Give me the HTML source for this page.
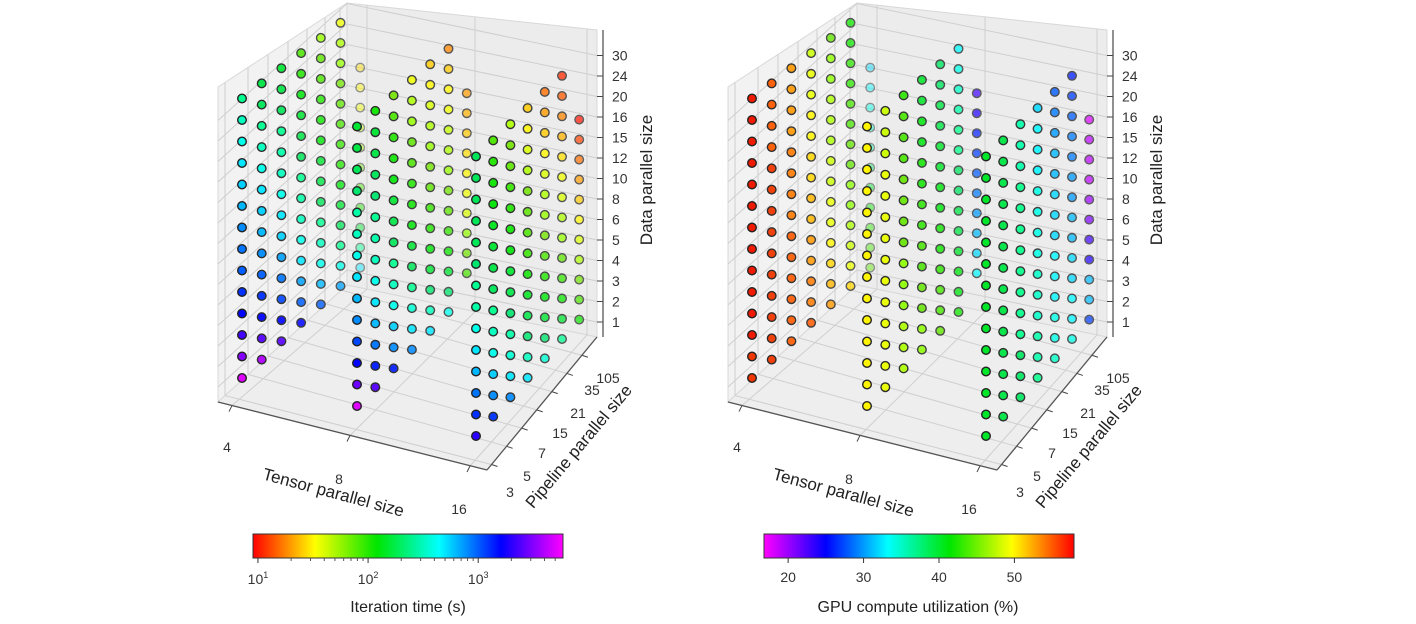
<!DOCTYPE html>
<html><head><meta charset="utf-8"><style>
html,body{margin:0;padding:0;background:#fff;}
svg{display:block;font-family:"Liberation Sans",sans-serif;}
</style></head><body>
<svg id="fig" width="1416" height="624" viewBox="0 0 1416 624" xmlns="http://www.w3.org/2000/svg">
<defs>
<linearGradient id="gTime" x1="0" x2="1" y1="0" y2="0">
<stop offset="0" stop-color="hsl(0,100%,50%)"/><stop offset="0.2" stop-color="hsl(60,100%,50%)"/><stop offset="0.4" stop-color="hsl(120,100%,45%)"/><stop offset="0.6" stop-color="hsl(180,100%,50%)"/><stop offset="0.8" stop-color="hsl(240,100%,50%)"/><stop offset="1" stop-color="hsl(300,100%,50%)"/>
</linearGradient>
<linearGradient id="gUtil" x1="0" x2="1" y1="0" y2="0">
<stop offset="0" stop-color="hsl(300,100%,50%)"/><stop offset="0.2" stop-color="hsl(240,100%,50%)"/><stop offset="0.4" stop-color="hsl(180,100%,50%)"/><stop offset="0.6" stop-color="hsl(120,100%,45%)"/><stop offset="0.8" stop-color="hsl(60,100%,50%)"/><stop offset="1" stop-color="hsl(0,100%,50%)"/>
</linearGradient>
</defs>
</svg>
<script>
// ---- data ----
const tensorSizes = [4, 8, 16];
const pipelineSizes = [3, 5, 7, 15, 21, 35, 105];
const dataSizes = [1, 2, 3, 4, 5, 6, 8, 10, 12, 15, 16, 20, 24, 30];
const startRowT4 = [0,0,0,0,0,0,0];
const startRowT8 = [0,0,0,0,0,0,1];
const startRowT16 = [0,0,0,0,0,0,0];
// log10 iteration time (s), each column bottom -> top
const logTimeT4 = [
 [3.7,3.5,3.35,3.2,3.1,3.0,2.95,2.9,2.8,2.75,2.7,2.6,2.5,2.4],
 [3.6,3.4,3.2,3.1,3.0,2.9,2.8,2.75,2.7,2.6,2.5,2.4,2.3,2.25],
 [3.4,3.2,3.05,2.95,2.85,2.75,2.7,2.6,2.5,2.45,2.4,2.3,2.25,2.2],
 [3.2,3.0,2.85,2.7,2.6,2.5,2.45,2.4,2.3,2.25,2.2,2.1,2.0,1.9],
 [3.0,2.8,2.6,2.5,2.4,2.3,2.25,2.2,2.1,2.05,2.0,1.9,1.85,1.75],
 [2.85,2.6,2.4,2.3,2.2,2.1,2.0,1.95,1.9,1.85,1.8,1.75,1.7,1.55],
 [2.7,2.4,2.2,2.0,1.9,1.8,1.7,1.65,1.55,1.5,1.45]];
const logTimeT8 = [
 [3.7,3.45,3.2,3.05,2.9,2.8,2.7,2.6,2.5,2.45,2.35,2.3,2.25,2.2],
 [3.4,3.15,2.95,2.8,2.7,2.6,2.5,2.45,2.4,2.35,2.3,2.25,2.2,2.05],
 [3.15,2.9,2.75,2.6,2.5,2.4,2.3,2.25,2.2,2.1,2.05,2.0,1.9,1.8],
 [2.9,2.7,2.55,2.4,2.3,2.2,2.1,2.05,2.0,1.9,1.85,1.75,1.7,1.55],
 [2.7,2.5,2.35,2.2,2.1,2.0,1.95,1.85,1.8,1.75,1.7,1.6,1.5,1.4],
 [2.6,2.35,2.2,2.05,1.95,1.85,1.8,1.75,1.7,1.65,1.55,1.5,1.4,1.25],
 [1.9,1.8,1.75,1.6,1.55,1.5,1.45,1.4,1.35,1.3]];
const logTimeT16 = [
 [3.3,3.1,2.95,2.8,2.7,2.6,2.45,2.4,2.35,2.3,2.3,2.3,2.3,2.3],
 [3.1,2.9,2.75,2.6,2.5,2.4,2.3,2.25,2.2,2.15,2.1,2.05,2.0,1.9],
 [2.9,2.7,2.55,2.45,2.35,2.25,2.2,2.1,2.05,2.0,1.95,1.85,1.8,1.7],
 [2.7,2.5,2.35,2.25,2.15,2.05,1.95,1.9,1.85,1.8,1.7,1.6,1.5,1.4],
 [2.55,2.35,2.2,2.1,2.0,1.9,1.8,1.75,1.7,1.6,1.5,1.4,1.3,1.2],
 [2.4,2.2,2.05,1.95,1.85,1.75,1.7,1.6,1.55,1.45,1.35,1.25,1.15,1.05],
 [2.05,1.9,1.8,1.7,1.6,1.5,1.4,1.3,1.2,1.1,1.0]];
// GPU utilization (%)
const utilT4 = [
 [56,56,57,57,57,57,57,57,57,57,57,57,57,57],
 [56,56,56,56,56,56,56,56,56,56,55,55,55,55],
 [55,55,55,55,55,55,54,54,54,54,53,53,53,53],
 [55,54,54,53,53,52,52,51,51,50,50,49,49,48],
 [53,52,51,50,49,49,48,48,47,47,47,46,46,45],
 [51,49,48,47,46,46,45,45,44,44,43,43,42,42],
 [45,44,43,42,40,38,36,35,34,33,32]];
const utilT8 = [
 [50,50,50,50,50,50,50,50,50,50,50,50,50,50],
 [49,49,49,49,49,49,49,49,49,49,49,48,48,48],
 [47,47,47,46,46,46,45,45,45,45,44,44,44,43],
 [46,46,45,45,44,44,43,43,42,42,41,41,40,40],
 [45,44,44,43,42,42,41,41,40,40,39,39,38,38],
 [42,41,41,40,39,39,38,38,37,37,36,35,34,33],
 [33,32,31,30,29,28,27,26,24,23]];
const utilT16 = [
 [40,40,40,40,40,40,40,40,40,40,40,40,40,40],
 [39,39,39,39,39,39,39,39,39,39,39,39,39,39],
 [38,38,38,37,37,37,37,37,37,37,37,36,36,36],
 [37,36,36,35,35,35,34,34,34,34,33,33,33,32],
 [35,34,34,33,33,33,32,32,32,31,31,30,29,28],
 [34,33,33,32,32,31,31,30,30,29,29,28,27,26],
 [27,31,31,24,23,21,20,19,19,19,18]];
const timeTickLabels = ["1", "2", "3"];
const timeTickValues = [1, 2, 3];
const utilTickValues = [20, 30, 40, 50];
const pipelineTickLabels = ["3","5","7","15","21","35","105"];
const dataTickLabels = ["1","2","3","4","5","6","8","10","12","15","16","20","24","30"];
const tensorTickLabels = ["4","8","16"];

// ---- geometry ----
const NS = "http://www.w3.org/2000/svg";
const svg = document.getElementById('fig');
function mk(tag, attrs, parent){const e=document.createElementNS(NS,tag);for(const k in attrs)e.setAttribute(k,attrs[k]);(parent||svg).appendChild(e);return e;}
const groupBaseX=[242,357,476], groupDxP=[19.7,18.3,17.2], groupBaseY=[378,406,436], groupDyP=[18.4,18.8,19.4];
function px(ti,pi){return groupBaseX[ti]+pi*groupDxP[ti];}
function py(ti,pi,row){return groupBaseY[ti]-pi*groupDyP[ti]-row*(21.5-pi*0.25);}

function drawChart(ox, valuesByT, colorFn, opts){
  const g = mk('g',{transform:`translate(${ox},0)`});
  
  
  const left = mk('polygon',{points:"218,402 218,87 347,3 347,285",fill:"#f2f2f2",stroke:"#d8d8d8"},g);
   
  const back = mk('polygon',{points:"347,3 347,285 597,337 597,30",fill:"#ececec",stroke:"#d8d8d8"},g);
   
  const floor = mk('polygon',{points:"218,402 487,470 597,337 347,285",fill:"#eeeeee",stroke:"#d8d8d8"},g);
   
  dataTickLabels.forEach((lab,k)=>{
    const yr = 322 - k*20.5, yb = yr-52;
    const gl = mk('polyline',{points:`597,${yr} 347,${yb} 218,${yb+117}`,fill:"none",stroke:"#cfcfcf","stroke-width":1},g);
     
    mk('line',{x1:597,y1:yr,x2:603,y2:yr,stroke:"#444"},g);
    const t = mk('text',{x:612,y:yr+5,"font-size":14,fill:"#333"},g);
    t.textContent = lab;
     
  });
  const backTx=[367,475,587], frontTx=[232,350,470];
  tensorTickLabels.forEach((lab,i)=>{
    const yb = 285 + (backTx[i]-347)*0.208;
    mk('line',{x1:backTx[i],y1:3+(backTx[i]-347)*0.108,x2:backTx[i],y2:yb,stroke:"#cfcfcf"},g);
    const fy = 402 + (frontTx[i]-218)*0.254;
    mk('line',{x1:backTx[i],y1:yb,x2:frontTx[i],y2:fy,stroke:"#cfcfcf"},g);
    mk('line',{x1:frontTx[i],y1:fy,x2:frontTx[i]-3,y2:fy+6,stroke:"#444"},g);
    const t = mk('text',{x:[227,339,459][i],y:[452,484,514][i],"font-size":14,fill:"#333","text-anchor":"middle"},g);
    t.textContent = lab;
     
  });
  const leftPx=[225,248,268,288,307,325,340];
  const labPos=[[510,497],[527,481],[542,458],[560,438],[578,418],[592,395],[608,383]];
  pipelineTickLabels.forEach((lab,i)=>{
    const lx=leftPx[i], ly=402-(lx-218)*0.92;
    mk('line',{x1:lx,y1:ly,x2:lx,y2:87-(lx-218)*0.65,stroke:"#cfcfcf"},g);
    const fx=487+(597-487)*(i+0.3)/7.3, fy=470-(470-337)*(i+0.3)/7.3;
    mk('line',{x1:lx,y1:ly,x2:fx,y2:fy,stroke:"#cfcfcf"},g);
    mk('line',{x1:fx,y1:fy,x2:fx+6,y2:fy+2,stroke:"#444"},g);
    const t = mk('text',{x:labPos[i][0],y:labPos[i][1],"font-size":14,fill:"#333","text-anchor":"middle"},g);
    t.textContent = lab;
     
  });
  mk('line',{x1:218,y1:402,x2:487,y2:470,stroke:"#555","stroke-width":1.3},g);
  mk('line',{x1:487,y1:470,x2:597,y2:337,stroke:"#555","stroke-width":1.3},g);
  mk('line',{x1:603,y1:30,x2:603,y2:337,stroke:"#555","stroke-width":1.3},g);
  const pts=[];
  valuesByT.forEach((cols,ti)=>cols.forEach((col,pi)=>col.forEach((v,k)=>pts.push({ti,pi,row:opts.starts[ti][pi]+k,v}))));
  pts.sort((a,b)=>b.pi-a.pi || a.ti-b.ti);
  pts.forEach(p=>{
    let op = 1-0.05*p.pi; if(p.pi===6) op = p.ti===0?0.45:0.7;
    const c = mk('circle',{cx:px(p.ti,p.pi).toFixed(1),cy:py(p.ti,p.pi,p.row).toFixed(1),r:4.3,fill:colorFn(p.v),stroke:"#222","stroke-width":1.4,opacity:op},g);
    
    
  });
  const tx = mk('text',{x:0,y:0,"font-size":17,fill:"#222","text-anchor":"middle",transform:"translate(332,498) rotate(15)"},g);
  tx.textContent="Tensor parallel size";  
  const tp = mk('text',{x:0,y:0,"font-size":17,fill:"#222","text-anchor":"middle",transform:"translate(583,450) rotate(-50)"},g);
  tp.textContent="Pipeline parallel size";  
  const td = mk('text',{x:0,y:0,"font-size":17,fill:"#222","text-anchor":"middle",transform:"translate(652,180) rotate(-90)"},g);
  td.textContent="Data parallel size";  
}

const timeMin=0.955, timeMax=3.77, utilMin=16.8, utilMax=57.9;
function timeColor(v){const n=Math.max(0,Math.min(1,(v-timeMin)/(timeMax-timeMin)));return `hsl(${n*300},100%,${n>0.3&&n<0.5?45:50}%)`;}
function utilColor(v){const n=Math.max(0,Math.min(1,(v-utilMin)/(utilMax-utilMin)));const h=300*(1-n);return `hsl(${h},100%,${h>90&&h<150?45:(h<15?47:50)}%)`;}
const starts=[startRowT4,startRowT8,startRowT16];
drawChart(0,[logTimeT4,logTimeT8,logTimeT16],timeColor,{name:'iteration-time-chart',starts});
drawChart(510,[utilT4,utilT8,utilT16],utilColor,{name:'gpu-utilization-chart',starts});

const cb1 = mk('rect',{x:253,y:534,width:310,height:24,fill:"url(#gTime)",stroke:"#333"});
 
function timeX(lv){return 253+(lv-timeMin)/(timeMax-timeMin)*310;}
timeTickValues.forEach((d,i)=>{
  const x=timeX(d);
  mk('line',{x1:x,y1:558,x2:x,y2:563,stroke:"#333"});
  for(let m=2;m<10;m++){const lx=timeX(d+Math.log10(m)); if(lx<563) mk('line',{x1:lx,y1:558,x2:lx,y2:561,stroke:"#555"});}
  const t=mk('text',{x:x,y:584,"font-size":14,fill:"#333","text-anchor":"middle"});
  t.innerHTML=`10<tspan dy="-6" font-size="9">${timeTickLabels[i]}</tspan>`;
   
});
const cbt1=mk('text',{x:408,y:612,"font-size":16,fill:"#222","text-anchor":"middle"});
cbt1.textContent="Iteration time (s)";  

const cb2 = mk('rect',{x:764,y:534,width:310,height:24,fill:"url(#gUtil)",stroke:"#333"});
 
utilTickValues.forEach(v=>{
  const x=764+(v-utilMin)/(utilMax-utilMin)*310;
  mk('line',{x1:x,y1:558,x2:x,y2:563,stroke:"#333"});
  const t=mk('text',{x:x,y:582,"font-size":14,fill:"#333","text-anchor":"middle"});
  t.textContent=String(v);
   
});
const cbt2=mk('text',{x:918,y:612,"font-size":16,fill:"#222","text-anchor":"middle"});
cbt2.textContent="GPU compute utilization (%)";  
</script>
</body></html>
